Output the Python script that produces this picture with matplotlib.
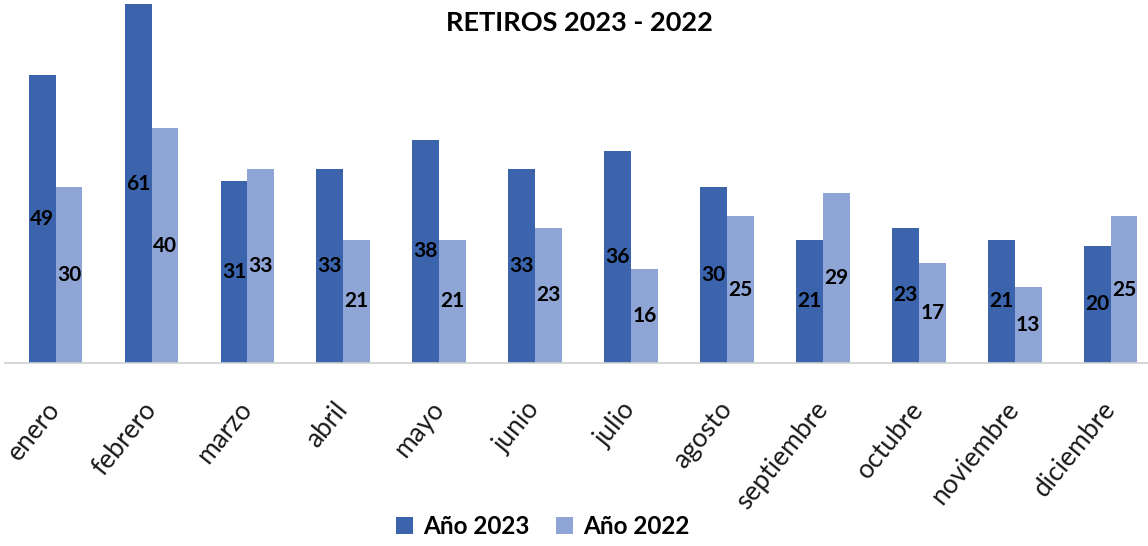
import numpy as np
import matplotlib.pyplot as plt

plt.rcParams['font.family'] = ['Lato', 'DejaVu Sans']

meses = ["enero", "febrero", "marzo", "abril", "mayo", "junio",
         "julio", "agosto", "septiembre", "octubre", "noviembre", "diciembre"]
anio_2023 = [49, 61, 31, 33, 38, 33, 36, 30, 21, 23, 21, 20]
anio_2022 = [30, 40, 33, 21, 21, 23, 16, 25, 29, 17, 13, 25]

c2023 = "#3B64AD"
c2022 = "#8FA5D5"

fig = plt.figure(figsize=(11.48, 5.46), dpi=100)
ax = fig.add_axes([0.004, 0.335, 0.996, 0.66])

x = np.arange(len(meses))
w = 0.28
b1 = ax.bar(x - w / 2, anio_2023, w, color=c2023, label="Año 2023")
b2 = ax.bar(x + w / 2, anio_2022, w, color=c2022, label="Año 2022")

for bars in (b1, b2):
    ax.bar_label(bars, label_type="center", fontsize=15, fontweight="bold",
                 color="black")

ax.set_xlim(-0.532, 11.39)
ax.set_ylim(0, 61.3)
ax.set_yticks([])
ax.set_xticks(x)
ax.set_xticklabels(meses, rotation=51, ha="right", va="center",
                   rotation_mode="anchor", fontsize=19, color="#1a1a1a")
ax.tick_params(axis="x", length=0, pad=30)
for s in ("top", "right", "left"):
    ax.spines[s].set_visible(False)
ax.spines["bottom"].set_color("#d0d0d0")
ax.spines["bottom"].set_linewidth(1.2)

fig.text(0.505, 0.958, "RETIROS 2023 - 2022", ha="center", va="center",
         fontsize=19.5, fontweight="bold", color="black")

fig.legend(loc="center", bbox_to_anchor=(0.4726, 0.035), ncol=2, frameon=False,
           prop={"size": 17.5, "weight": "bold"}, handlelength=0.7,
           handleheight=0.7, columnspacing=1.1, handletextpad=0.4)

fig.savefig("out.png", dpi=100)
